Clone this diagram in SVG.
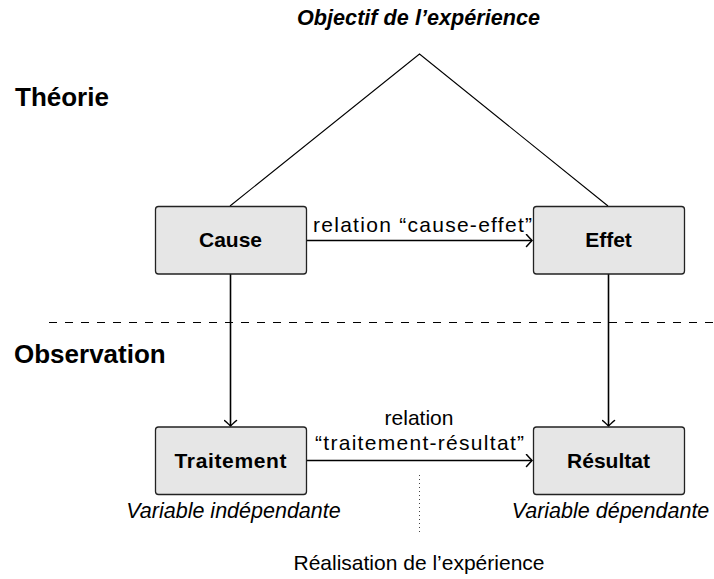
<svg xmlns="http://www.w3.org/2000/svg" width="714" height="579" viewBox="0 0 714 579">
  <style>
    text { font-family: "Liberation Sans", Arial, sans-serif; fill: #000; }
    .box { fill: #e6e6e6; stroke: #222; stroke-width: 1.3; }
    .node { font-weight: bold; font-size: 21px; text-anchor: middle; }
    .head { font-weight: bold; font-size: 26px; }
    .lbl { font-size: 21px; }
    .note { font-style: italic; font-size: 21.5px; text-anchor: middle; }
    .edge { fill: none; stroke: #000; stroke-width: 1.6; }
    .thin { fill: none; stroke: #000; stroke-width: 1.1; }
  </style>
  <defs>
    <marker id="arrow" markerUnits="userSpaceOnUse" viewBox="-8 -7 10 14" markerWidth="10" markerHeight="14" refX="0" refY="0" orient="auto">
      <path d="M-5.5,-6 Q-1.5,-1.5 0,0 Q-1.5,1.5 -5.5,6" fill="none" stroke="#000" stroke-width="1.5" stroke-linecap="round"/>
    </marker>
  </defs>

  <rect width="714" height="579" fill="#fff"/>

  <!-- section headings -->
  <text class="head" x="15" y="106">Théorie</text>
  <text class="head" x="14" y="363">Observation</text>
  <line x1="49" y1="322.5" x2="714" y2="322.5" stroke="#000" stroke-width="1.1" stroke-dasharray="8 8"/>

  <!-- top caption and roof lines -->
  <text x="418.5" y="25" text-anchor="middle" font-weight="bold" font-style="italic" font-size="21.6px" textLength="243">Objectif de l’expérience</text>

  <g id="connectors">
    <polyline class="thin" points="230,206 419.5,54 608,206"/>
    <line class="edge" x1="306" y1="240.5" x2="532" y2="240.5" marker-end="url(#arrow)"/>
    <line class="edge" x1="230.5" y1="274" x2="230.5" y2="426" marker-end="url(#arrow)"/>
    <line class="edge" x1="608.5" y1="274" x2="608.5" y2="426" marker-end="url(#arrow)"/>
    <line class="edge" x1="306" y1="460.5" x2="532" y2="460.5" marker-end="url(#arrow)"/>
    <line x1="419.5" y1="475" x2="419.5" y2="532" stroke="#444" stroke-width="1" stroke-dasharray="1 3"/>
    <text class="lbl" x="313" y="232" textLength="219">relation  “cause-effet”</text>
    <text class="lbl" x="419" y="425" text-anchor="middle" font-size="22px">relation</text>
    <text class="lbl" x="419.5" y="450" text-anchor="middle" textLength="209">“traitement-résultat”</text>
  </g>

  <g id="cause">
    <rect class="box" x="155.5" y="206.5" width="151" height="67.5" rx="3"/>
    <text class="node" x="230.5" y="247">Cause</text>
  </g>
  <g id="effet">
    <rect class="box" x="533.5" y="206.5" width="151" height="67.5" rx="3"/>
    <text class="node" x="608.5" y="247">Effet</text>
  </g>
  <g id="traitement">
    <rect class="box" x="155.5" y="427" width="151" height="67.5" rx="3"/>
    <text class="node" x="230.5" y="468" textLength="112">Traitement</text>
    <text class="note" x="233.5" y="518">Variable indépendante</text>
  </g>
  <g id="resultat">
    <rect class="box" x="533.5" y="427" width="151" height="67.5" rx="3"/>
    <text class="node" x="608.5" y="468">Résultat</text>
    <text class="note" x="610.5" y="518">Variable dépendante</text>
  </g>

  <text class="lbl" x="419" y="570" text-anchor="middle" font-size="22px">Réalisation de l’expérience</text>
</svg>
